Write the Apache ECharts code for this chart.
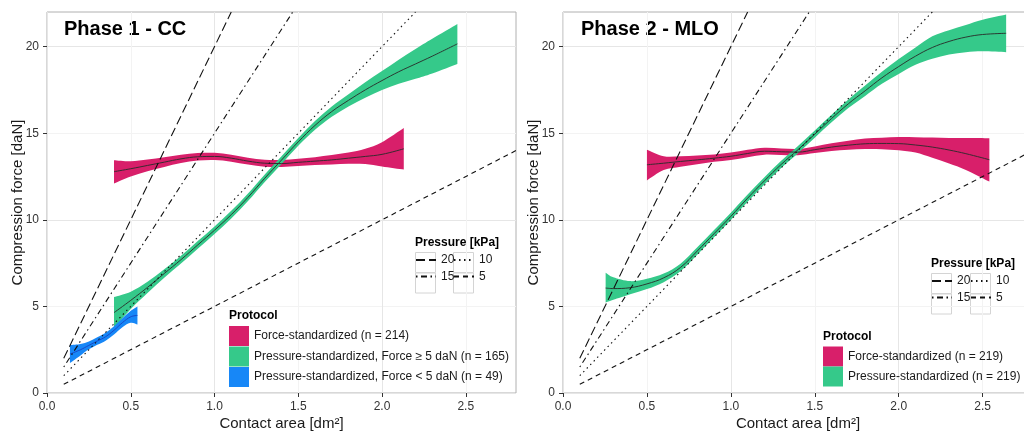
<!DOCTYPE html>
<html>
<head>
<meta charset="utf-8">
<script src="https://cdn.jsdelivr.net/npm/echarts@6/dist/echarts.min.js"></script>
</head>
<body style="margin: 0; background: #fff">
<div id="main" style="width: 1024px; height: 431px"></div>
<script>
// axis ticks
var xTicks = [0, 0.5, 1, 1.5, 2, 2.5];
var yTicks = [0, 5, 10, 15, 20];

// constant pressure reference lines (kPa), endpoints [area dm2, force daN]
var pressureNames = ['20', '15', '10', '5'];
var pressureLines = [
  [[0.1, 2], [1.1, 22]],
  [[0.1, 1.5], [1.467, 22]],
  [[0.1, 1], [2.2, 22]],
  [[0.1, 0.5], [2.8, 14]]
];
var pressureDash = [[9, 4], [1.5, 3.5, 6, 3.5], [1.5, 3.5], [5, 4]];

// Phase 1 - CC
var p1Names = ['Force-standardized (n = 214)',
  'Pressure-standardized, Force \u2265 5 daN (n = 165)',
  'Pressure-standardized, Force < 5 daN (n = 49)'];

var p1ForceArea = [0.4, 0.5, 0.6, 0.7, 0.8, 0.9, 1.0, 1.1, 1.2, 1.3, 1.4, 1.5, 1.6, 1.7, 1.8, 1.9, 2.0, 2.13];
var p1ForceMid = [12.78, 12.95, 13.14, 13.33, 13.52, 13.64, 13.66, 13.56, 13.39, 13.27, 13.25, 13.32, 13.39, 13.46, 13.56, 13.66, 13.78, 14.1];
var p1ForceLo = [12.1, 12.5, 12.8, 13.05, 13.28, 13.42, 13.45, 13.36, 13.19, 13.07, 13.05, 13.11, 13.17, 13.2, 13.24, 13.22, 13.08, 12.9];
var p1ForceHi = [13.44, 13.38, 13.48, 13.62, 13.76, 13.86, 13.87, 13.76, 13.59, 13.47, 13.46, 13.53, 13.62, 13.74, 13.88, 14.1, 14.48, 15.3];

var p1HighArea = [0.4, 0.5, 0.6, 0.7, 0.8, 0.9, 1.0, 1.1, 1.2, 1.3, 1.4, 1.5, 1.6, 1.7, 1.8, 1.9, 2.0, 2.1, 2.2, 2.3, 2.45];
var p1HighMid = [4.64, 5.35, 6.1, 6.9, 7.7, 8.55, 9.4, 10.3, 11.3, 12.4, 13.45, 14.5, 15.45, 16.25, 16.9, 17.5, 18.04, 18.55, 19.0, 19.45, 20.16];
var p1HighLo = [3.74, 4.85, 5.78, 6.66, 7.48, 8.33, 9.18, 10.08, 11.08, 12.18, 13.23, 14.27, 15.2, 15.95, 16.55, 17.05, 17.49, 17.85, 18.14, 18.45, 19.0];
var p1HighHi = [5.54, 5.85, 6.42, 7.14, 7.92, 8.77, 9.62, 10.52, 11.52, 12.62, 13.67, 14.73, 15.7, 16.55, 17.25, 17.95, 18.59, 19.25, 19.86, 20.45, 21.3];

var p1LowArea = [0.137, 0.2, 0.25, 0.3, 0.35, 0.4, 0.45, 0.5, 0.54];
var p1LowMid = [2.25, 2.5, 2.75, 3.0, 3.25, 3.62, 4.06, 4.4, 4.48];
var p1LowLo = [1.73, 2.17, 2.52, 2.78, 3.02, 3.38, 3.8, 4.05, 3.95];
var p1LowHi = [2.77, 2.83, 2.98, 3.22, 3.48, 3.86, 4.32, 4.75, 5.0];

// Phase 2 - MLO
var p2Names = ['Force-standardized (n = 219)', 'Pressure-standardized (n = 219)'];

var p2ForceArea = [0.5, 0.6, 0.7, 0.8, 0.9, 1.0, 1.1, 1.2, 1.3, 1.4, 1.5, 1.6, 1.7, 1.8, 1.9, 2.0, 2.1, 2.2, 2.3, 2.4, 2.54];
var p2ForceMid = [13.18, 13.27, 13.37, 13.46, 13.56, 13.67, 13.83, 13.96, 13.93, 13.91, 14.05, 14.2, 14.31, 14.39, 14.41, 14.4, 14.32, 14.2, 14.03, 13.82, 13.47];
var p2ForceLo = [12.27, 12.87, 13.07, 13.21, 13.35, 13.46, 13.62, 13.76, 13.74, 13.73, 13.86, 13.98, 14.05, 14.09, 14.08, 14.02, 13.88, 13.58, 13.25, 12.88, 12.21];
var p2ForceHi = [14.05, 13.67, 13.67, 13.71, 13.77, 13.88, 14.04, 14.16, 14.12, 14.09, 14.24, 14.42, 14.57, 14.69, 14.74, 14.78, 14.77, 14.75, 14.73, 14.72, 14.71];

var p2PressArea = [0.254, 0.3, 0.4, 0.5, 0.6, 0.7, 0.8, 0.9, 1.0, 1.1, 1.2, 1.3, 1.4, 1.5, 1.6, 1.7, 1.8, 1.9, 2.0, 2.1, 2.2, 2.3, 2.4, 2.5, 2.64];
var p2PressMid = [6.06, 6.03, 6.08, 6.3, 6.65, 7.25, 8.2, 9.2, 10.2, 11.25, 12.25, 13.2, 14.05, 14.95, 15.85, 16.7, 17.45, 18.2, 18.85, 19.45, 19.95, 20.3, 20.55, 20.7, 20.77];
var p2PressLo = [5.22, 5.38, 5.7, 6.0, 6.4, 7.03, 7.98, 8.99, 9.99, 11.04, 12.04, 12.99, 13.84, 14.74, 15.63, 16.45, 17.15, 17.85, 18.42, 18.95, 19.3, 19.55, 19.68, 19.73, 19.68];
var p2PressHi = [6.95, 6.68, 6.46, 6.6, 6.9, 7.47, 8.42, 9.41, 10.41, 11.46, 12.46, 13.41, 14.26, 15.16, 16.07, 16.95, 17.75, 18.55, 19.28, 19.95, 20.6, 20.95, 21.25, 21.55, 21.85];

var MAGENTA = '#d81f6a', GREEN = '#35c98a', BLUE = '#1787f7';
var FONT = 'Liberation Sans, Arial, sans-serif';

var chart = echarts.init(document.getElementById('main'));

// catmull-rom through pixel points -> bezier path commands
function curveThrough(pts) {
  var d = '';
  for (var i = 0; i < pts.length - 1; i++) {
    var p0 = pts[i - 1] || pts[i], p1 = pts[i], p2 = pts[i + 1], p3 = pts[i + 2] || p2;
    var c1 = [p1[0] + (p2[0] - p0[0]) / 6, p1[1] + (p2[1] - p0[1]) / 6];
    var c2 = [p2[0] - (p3[0] - p1[0]) / 6, p2[1] - (p3[1] - p1[1]) / 6];
    d += ' C' + c1.join(',') + ' ' + c2.join(',') + ' ' + p2.join(',');
  }
  return d;
}

function band(name, idx, xs, lo, hi, color) {
  return {
    name: name, type: 'custom', xAxisIndex: idx, yAxisIndex: idx, z: 2, silent: true,
    itemStyle: { color: color },
    data: xs.map(function (x, i) { return [x, lo[i], hi[i]]; }),
    encode: { x: 0, y: [1, 2] },
    renderItem: function (params, api) {
      if (params.dataIndex !== 0) return null;
      var top = xs.map(function (x, i) { return api.coord([x, hi[i]]); });
      var bot = xs.map(function (x, i) { return api.coord([x, lo[i]]); }).reverse();
      var d = 'M' + top[0].join(',') + curveThrough(top) +
        ' L' + bot[0].join(',') + curveThrough(bot) + ' Z';
      return { type: 'path', shape: { pathData: d }, style: { fill: color } };
    }
  };
}

function centre(idx, xs, mid, color) {
  return {
    type: 'line', xAxisIndex: idx, yAxisIndex: idx, z: 3, silent: true,
    smooth: 0.4, symbol: 'none',
    lineStyle: { color: color, width: 1 },
    data: xs.map(function (x, i) { return [x, mid[i]]; })
  };
}

function pressureSeries(idx) {
  return pressureNames.map(function (n, k) {
    return {
      name: n, type: 'line', xAxisIndex: idx, yAxisIndex: idx, z: 4, silent: true,
      symbol: 'none', itemStyle: { color: '#111' },
      lineStyle: { color: '#111', width: 1.1, type: pressureDash[k] },
      data: pressureLines[k]
    };
  });
}

function xAxis(idx) {
  return {
    type: 'value', gridIndex: idx, min: 0, max: 2.8, interval: 0.25,
    name: 'Contact area [dm\u00b2]', nameLocation: 'middle', nameGap: 23, nameMoveOverlap: false,
    nameTextStyle: { fontSize: 15, color: '#1a1a1a', fontFamily: FONT },
    axisLine: { show: false },
    axisTick: { show: true, length: 4, lineStyle: { color: '#333' }, customValues: xTicks },
    axisLabel: { color: '#333', fontSize: 12, margin: 8, customValues: xTicks,
      formatter: function (v) { return v.toFixed(1); } },
    splitLine: { show: true, lineStyle: { color: ['#e6e6e6', '#f3f3f3'], width: 1 } }
  };
}

function yAxis(idx) {
  return {
    type: 'value', gridIndex: idx, min: 0, max: 22, interval: 2.5,
    name: 'Compression force [daN]', nameLocation: 'middle', nameGap: 22, nameMoveOverlap: false,
    nameTextStyle: { fontSize: 15, color: '#1a1a1a', fontFamily: FONT },
    axisLine: { show: false },
    axisTick: { show: true, length: 4, lineStyle: { color: '#333' }, customValues: yTicks },
    axisLabel: { color: '#333', fontSize: 12, margin: 8, customValues: yTicks },
    splitLine: { show: true, lineStyle: { color: ['#e6e6e6', '#f3f3f3'], width: 1 } }
  };
}

function legend(names, left, top, gap, icon) {
  var l = {
    data: names, left: left, top: top, orient: 'vertical', padding: 0,
    itemWidth: 20, itemHeight: 20, itemGap: gap, selectedMode: false,
    textStyle: { fontSize: 12, color: '#1a1a1a', fontFamily: FONT }
  };
  if (icon) l.icon = icon;
  else l.itemStyle = { opacity: 0 };
  return l;
}

function label(text, x, y, size) {
  return { type: 'text', x: x, y: y, silent: true,
    style: { text: text, fill: '#000', font: 'bold ' + size + 'px ' + FONT, verticalAlign: 'middle' } };
}

function keyBox(x, y) {
  return { type: 'rect', silent: true, shape: { x: x + 0.5, y: y + 0.5, width: 20, height: 20 },
    style: { fill: 'none', stroke: '#d4d4d4', lineWidth: 1 } };
}

function keyLine(x, y, color) {
  return { type: 'line', silent: true, shape: { x1: x + 2, y1: y, x2: x + 18, y2: y },
    style: { stroke: color, lineWidth: 1 } };
}

var series = [
  band(p1Names[0], 0, p1ForceArea, p1ForceLo, p1ForceHi, MAGENTA),
  band(p1Names[1], 0, p1HighArea, p1HighLo, p1HighHi, GREEN),
  band(p1Names[2], 0, p1LowArea, p1LowLo, p1LowHi, BLUE),
  centre(0, p1ForceArea, p1ForceMid, '#3a2a30'),
  centre(0, p1HighArea, p1HighMid, '#2a3a32'),
  centre(0, p1LowArea, p1LowMid, '#1748c8'),
  band(p2Names[0], 1, p2ForceArea, p2ForceLo, p2ForceHi, MAGENTA),
  band(p2Names[1], 1, p2PressArea, p2PressLo, p2PressHi, GREEN),
  centre(1, p2ForceArea, p2ForceMid, '#3a2a30'),
  centre(1, p2PressArea, p2PressMid, '#2a3a32')
].concat(pressureSeries(0), pressureSeries(1));

var gridBase = { top: 12, height: 381, show: true, borderColor: '#b0b0b0', borderWidth: 1,
  outerBoundsMode: 'none', containLabel: false };

var option = {
  backgroundColor: '#fff',
  animation: false,
  textStyle: { fontFamily: FONT },
  grid: [
    Object.assign({ left: 47, width: 469 }, gridBase),
    Object.assign({ left: 563, width: 470 }, gridBase)
  ],
  xAxis: [xAxis(0), xAxis(1)],
  yAxis: [yAxis(0), yAxis(1)],
  legend: [
    legend(p1Names, 229, 326, 0.5, 'rect'),
    legend(['20', '15'], 415, 252, 0.5),
    legend(['10', '5'], 453, 252, 0.5),
    legend(p2Names, 823, 346.5, 0, 'rect'),
    legend(['20', '15'], 931, 273, 0.5),
    legend(['10', '5'], 970, 273, 0.5)
  ],
  graphic: [
    label('Phase 1 - CC', 64, 29, 20),
    label('Phase 2 - MLO', 581, 29, 20),
    label('Protocol', 229, 316, 12),
    label('Pressure [kPa]', 415, 243, 12),
    label('Protocol', 823, 337, 12),
    label('Pressure [kPa]', 931, 263.5, 12),
    keyBox(415, 252), keyBox(415, 272.5), keyBox(453, 252), keyBox(453, 272.5),
    keyBox(931, 273), keyBox(931, 293.5), keyBox(970, 273), keyBox(970, 293.5),
    keyLine(229, 336, '#3a2a30'), keyLine(229, 356.5, '#2a3a32'), keyLine(229, 377, '#1748c8'),
    keyLine(823, 356.5, '#3a2a30'), keyLine(823, 376.5, '#2a3a32')
  ],
  series: series
};

chart.setOption(option);
</script>
</body>
</html>
